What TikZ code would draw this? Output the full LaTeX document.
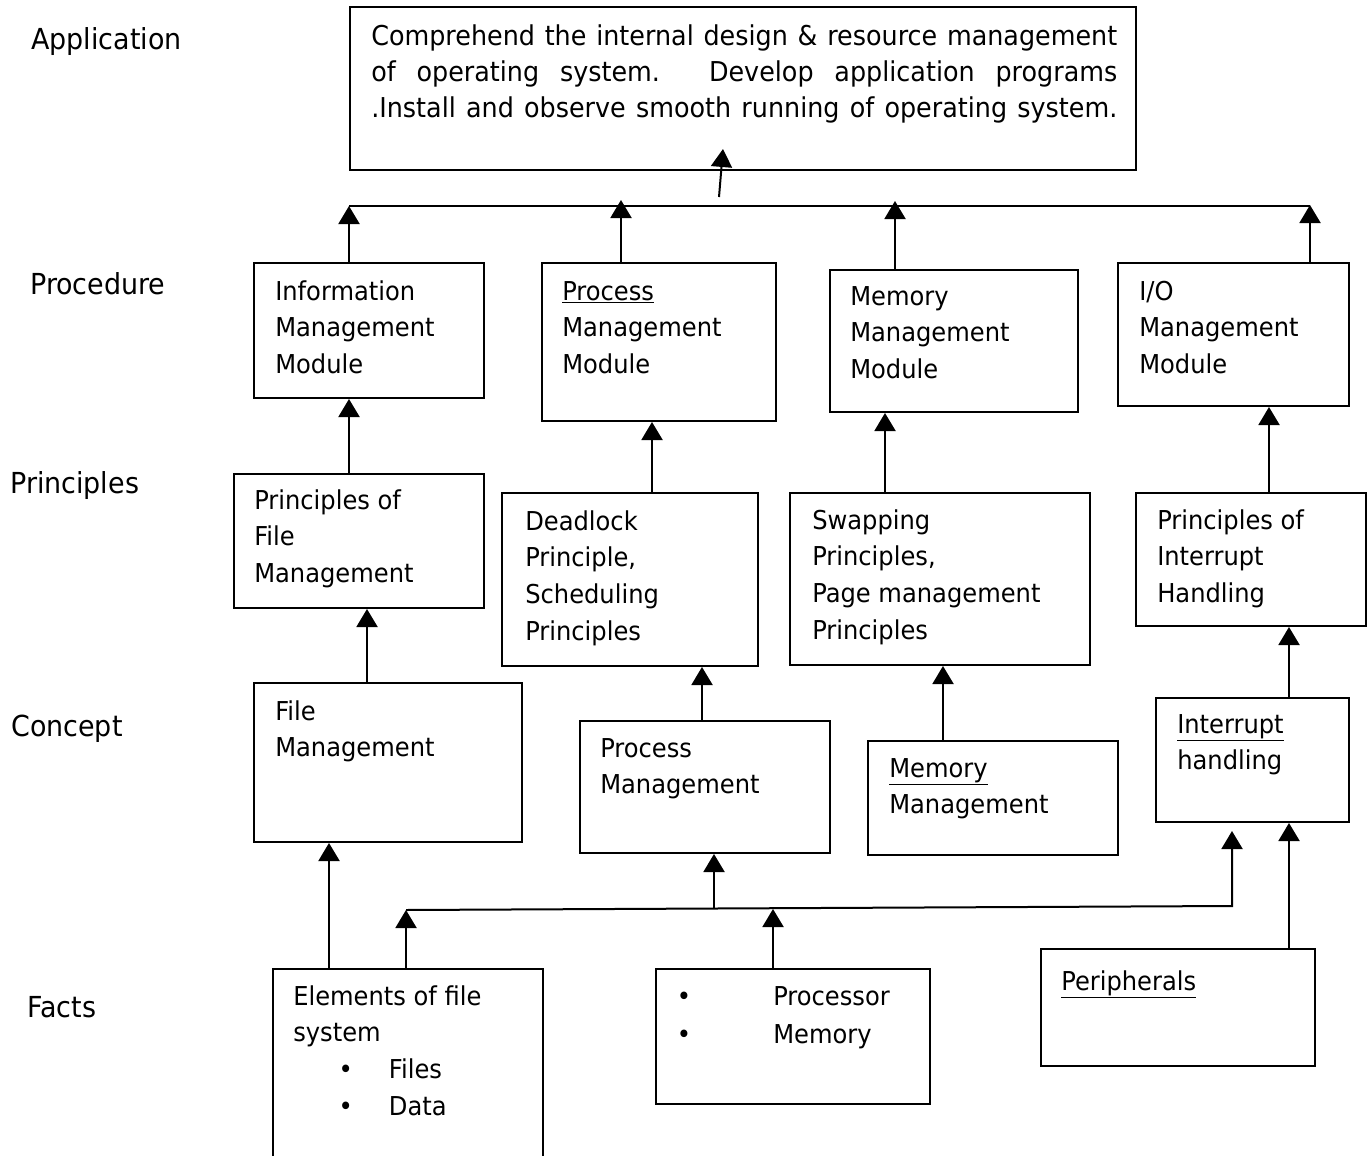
\documentclass[tikz,border=0pt]{standalone}
\usepackage{fontspec}
\setmainfont{DejaVu Sans}[FakeStretch=0.93]
\usetikzlibrary{arrows.meta}
\newcommand\boxfont{\fontsize{19.5}{27.5}\selectfont}
\newcommand\labfont{\fontsize{21.7}{24}\selectfont}
\newcommand\appfont{\fontsize{20.5}{27}\selectfont}
\newcommand\mystrut{\rule{0pt}{20pt}}
\begin{document}
\begin{tikzpicture}[x=0.75pt,y=-0.75pt,
  bx/.style n args={4}{draw, line width=1.5pt, inner sep=0pt, anchor=north west,
    minimum width={(#3-#1)*0.75pt}, minimum height={(#4-#2)*0.75pt}},
  txt/.style={anchor=north west, inner sep=0pt, align=left, font=\boxfont},
  lab/.style={anchor=base west, inner sep=0pt, font=\labfont},
  ln/.style={line width=1.5pt},
  arr/.style={line width=1.5pt, -{Triangle[width=15.75pt,length=13.5pt]}}]
\useasboundingbox (0,0) rectangle (1367,1156);

% level labels
\node[lab] (lapp) at (31,50) {Application};
\node[lab] (lproc) at (30,294) {Procedure};
\node[lab] (lprin) at (10,493) {Principles};
\node[lab] (lconc) at (11,736) {Concept};
\node[lab] (lfact) at (27,1017) {Facts};

% boxes
\node[bx={349}{6}{1135}{169}] (app) at (349,6) {};
\node[bx={253}{262}{483}{397}] (info) at (253,262) {};
\node[bx={541}{262}{775}{420}] (procmod) at (541,262) {};
\node[bx={829}{269}{1077}{411}] (memmod) at (829,269) {};
\node[bx={1117}{262}{1348}{405}] (iomod) at (1117,262) {};
\node[bx={233}{473}{483}{607}] (pfm) at (233,473) {};
\node[bx={501}{492}{757}{665}] (dead) at (501,492) {};
\node[bx={789}{492}{1089}{664}] (swap) at (789,492) {};
\node[bx={1135}{492}{1365}{625}] (pint) at (1135,492) {};
\node[bx={253}{682}{521}{841}] (filec) at (253,682) {};
\node[bx={579}{720}{829}{852}] (procc) at (579,720) {};
\node[bx={867}{740}{1117}{854}] (memc) at (867,740) {};
\node[bx={1155}{697}{1348}{821}] (inth) at (1155,697) {};
\node[bx={272}{968}{542}{1190}] (elem) at (272,968) {};
\node[bx={655}{968}{929}{1103}] (proc) at (655,968) {};
\node[bx={1040}{948}{1314}{1065}] (periph) at (1040,948) {};

% texts
\node[anchor=north west, inner sep=0pt, align=left, font=\appfont] (appt) at (371,45-26.667)
 {\mystrut\makebox[559.5pt][s]{Comprehend the internal design \& resource management}\\
  \makebox[559.5pt][s]{of operating system. Develop application programs}\\
  \makebox[559.5pt][s]{.Install and observe smooth running of operating system.}};
\node[txt] (infot) at (275,300-26.667) {\mystrut Information\\Management\\Module};
\node[txt] (procmodt) at (562,300-26.667) {\mystrut\underline{Process}\\Management\\Module};
\node[txt] (memmodt) at (850,305-26.667) {\mystrut Memory\\Management\\Module};
\node[txt] (iomodt) at (1139,300-26.667) {\mystrut I/O\\Management\\Module};
\node[txt] (pfmt) at (254,509-26.667) {\mystrut Principles of\\File\\Management};
\node[txt] (deadt) at (525,530-26.667) {\mystrut Deadlock\\Principle,\\Scheduling\\Principles};
\node[txt] (swapt) at (812,529-26.667) {\mystrut Swapping\\Principles,\\Page management\\Principles};
\node[txt] (pintt) at (1157,529-26.667) {\mystrut Principles of\\Interrupt\\Handling};
\node[txt] (filect) at (275,720-26.667) {\mystrut File\\Management};
\node[txt] (procct) at (600,757-26.667) {\mystrut Process\\Management};
\node[txt] (memct) at (889,777-26.667) {\mystrut\underline{Memory}\\Management};
\node[txt] (intht) at (1177,733-26.667) {\mystrut\underline{Interrupt}\\handling};
\node[txt] (elemt) at (293,1005-26.667) {\mystrut Elements of file\\system\\
  \hspace*{34pt}\makebox[37.8pt][l]{•}Files\\
  \hspace*{34pt}\makebox[37.8pt][l]{•}Data};
\node[txt, font=\fontsize{19.5}{28.5}\selectfont] (proct) at (676.6,1005-26.667)
 {\mystrut\makebox[72.3pt][l]{•}Processor\\\makebox[72.3pt][l]{•}Memory};
\node[txt] (peripht) at (1061,990-26.667) {\mystrut\underline{Peripherals}};

% upper bus
\coordinate (busL) at (349,206);
\coordinate (busR) at (1310,206);
\coordinate (t2) at (621,200);
\coordinate (t3) at (895,201);
\coordinate (t4) at (1310,205);
\coordinate (appfoot) at (719,197);
\coordinate (apptip) at (723,149);
\draw[ln] (busL) -- (busR);
\draw[arr] (info.north -| busL) -- (busL);
\draw[arr] (procmod.north -| t2) -- (t2);
\draw[arr] (memmod.north -| t3) -- (t3);
\draw[arr] (iomod.north -| t4) -- (t4);
\draw[arr] (appfoot) -- (apptip);

% vertical connectors
\coordinate (c1) at (349,0);
\coordinate (c2) at (652,0);
\coordinate (c3) at (885,0);
\coordinate (c4) at (1269,0);
\coordinate (c5) at (367,0);
\coordinate (c6) at (702,0);
\coordinate (c7) at (943,0);
\coordinate (c8) at (1289,0);
\coordinate (c9) at (329,0);
\draw[arr] (pfm.north -| c1) -- (info.south -| c1);
\draw[arr] (dead.north -| c2) -- (procmod.south -| c2);
\draw[arr] (swap.north -| c3) -- (memmod.south -| c3);
\draw[arr] (pint.north -| c4) -- (iomod.south -| c4);
\draw[arr] (filec.north -| c5) -- (pfm.south -| c5);
\draw[arr] (procc.north -| c6) -- (dead.south -| c6);
\draw[arr] (memc.north -| c7) -- (swap.south -| c7);
\draw[arr] (inth.north -| c8) -- (pint.south -| c8);
\draw[arr] (periph.north -| c8) -- (inth.south -| c8);
\draw[arr] (elem.north -| c9) -- (filec.south -| c9);

% lower bus
\coordinate (b2L) at (406,910);
\coordinate (b2R) at (1232,906);
\coordinate (b2T) at (1232,831);
\coordinate (b2P) at (773,909);
\coordinate (b2Q) at (714,909);
\draw[arr] (b2L) -- (b2R) -- (b2T);
\draw[arr] (elem.north -| b2L) -- (b2L);
\draw[arr] (proc.north -| b2P) -- (b2P);
\draw[arr] (b2Q) -- (procc.south -| b2Q);
\end{tikzpicture}
\end{document}
